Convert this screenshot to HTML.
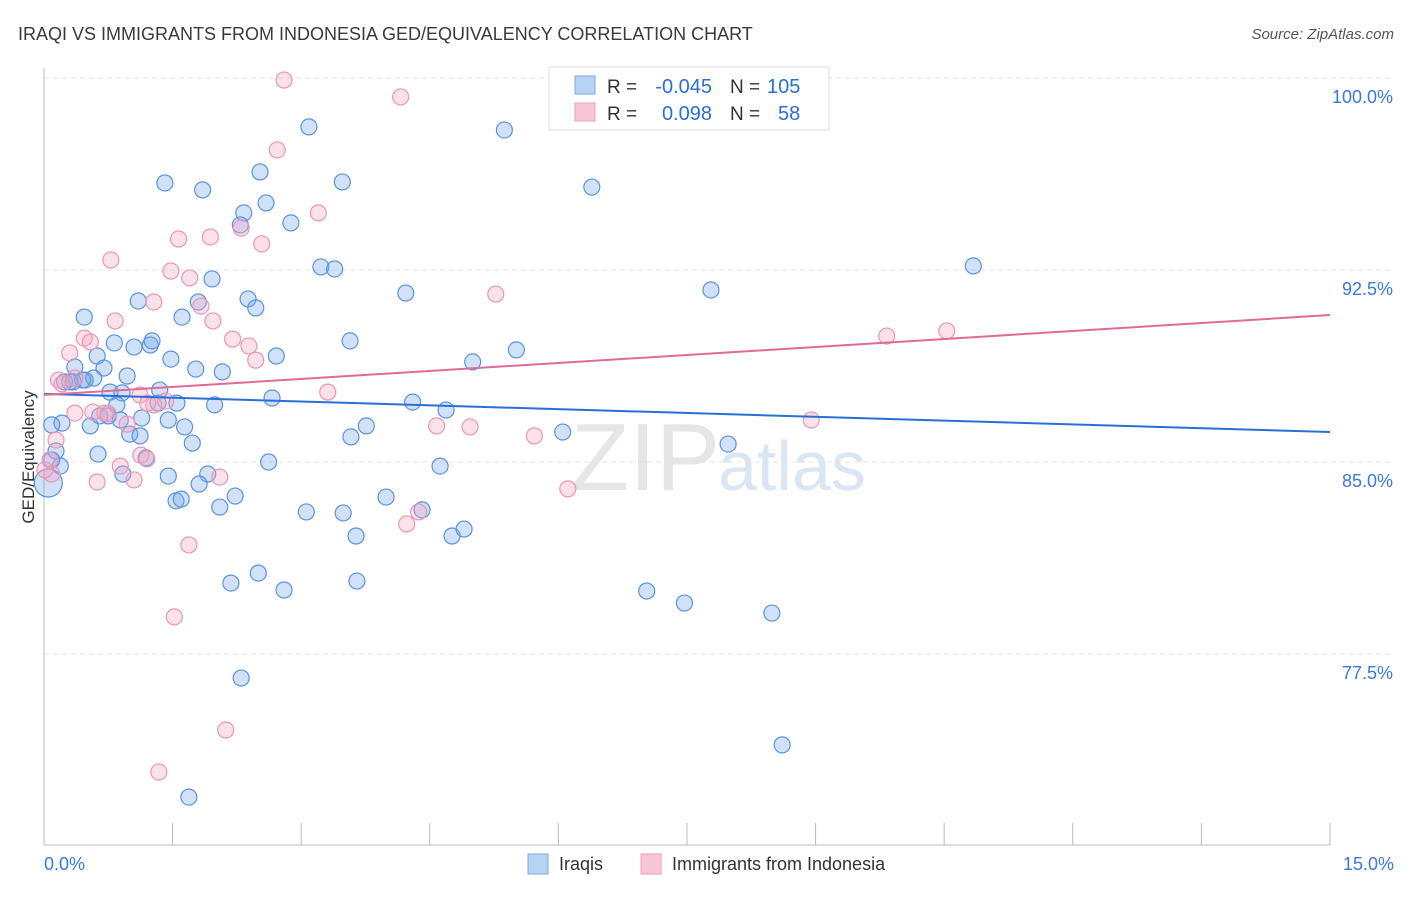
<!DOCTYPE html>
<html><head><meta charset="utf-8"><style>
body{margin:0;background:#fff;font-family:"Liberation Sans",sans-serif}
svg text{font-family:"Liberation Sans",sans-serif}
</style></head><body>
<svg id="chart" width="1406" height="892">
<text x="18" y="40" font-size="18" fill="#3a3a3a">IRAQI VS IMMIGRANTS FROM INDONESIA GED/EQUIVALENCY CORRELATION CHART</text>
<text x="1394" y="39" font-size="15" fill="#555" font-style="italic" text-anchor="end">Source: ZipAtlas.com</text>
<text x="720" y="490" font-size="96" fill="#e6e6e6" text-anchor="end" font-family="Liberation Serif">ZIP</text>
<text x="718" y="490" font-size="70" fill="#dbe6f5">atlas</text>
<g id="grid"></g>
<g id="axes"></g>
<g id="pts"></g>
<g id="trends"></g>
<text transform="translate(34,457) rotate(-90)" font-size="17" fill="#333" text-anchor="middle">GED/Equivalency</text>
<g>
<rect x="549" y="67" width="280" height="63" fill="#fff" stroke="#ddd"/>
<rect x="575" y="76" width="20" height="18" fill="#b7d2f3" stroke="#7aaae6"/>
<rect x="575" y="103" width="20" height="18" fill="#f8c6d6" stroke="#eca0bb"/>
<text x="607" y="93" font-size="19" fill="#333">R =</text>
<text x="712" y="93" font-size="20" fill="#2a6fd6" text-anchor="end">-0.045</text>
<text x="730" y="93" font-size="19" fill="#333">N =</text>
<text x="767" y="93" font-size="20" fill="#2a6fd6">105</text>
<text x="607" y="120" font-size="19" fill="#333">R =</text>
<text x="712" y="120" font-size="20" fill="#2a6fd6" text-anchor="end">0.098</text>
<text x="730" y="120" font-size="19" fill="#333">N =</text>
<text x="778" y="120" font-size="20" fill="#2a6fd6">58</text>
</g>
<g>
<rect x="528" y="854" width="20" height="20" fill="#b7d2f3" stroke="#7aaae6"/>
<text x="559" y="870" font-size="18" fill="#333">Iraqis</text>
<rect x="641" y="854" width="20" height="20" fill="#f8c6d6" stroke="#eca0bb"/>
<text x="672" y="870" font-size="18" fill="#333">Immigrants from Indonesia</text>
</g>
</svg>
<script>
const blueX=[6.63,3.09,5.37,1.41,3.48,6.39,2.52,1.85,2.59,2.33,2.88,2.29,3.23,3.39,1.96,10.84,4.22,7.78,1.10,2.38,2.47,1.80,0.47,1.61,3.57,5.51,5.00,0.82,1.05,1.24,1.26,0.62,1.48,2.71,1.77,2.08,0.36,0.70,0.58,0.48,0.24,0.34,0.97,0.77,0.91,1.35,1.55,1.33,1.99,2.66,4.30,4.69,0.21,0.09,0.54,0.85,1.00,1.12,1.64,1.73,3.58,3.76,6.05,7.98,0.14,0.63,1.19,0.19,2.62,4.62,0.92,1.45,1.91,1.81,2.23,1.54,1.60,2.05,3.06,3.49,3.99,4.41,4.76,4.90,3.64,2.18,2.50,2.80,3.65,7.03,7.47,8.49,2.30,8.61,1.69,0.75,0.30,1.14,0.89,0.65,0.45,1.45,0.09];
const blueY=[99.92,98.09,97.97,95.90,95.94,95.74,96.33,95.63,95.12,94.73,94.34,94.26,92.62,92.54,92.15,92.66,91.60,91.72,91.29,91.37,91.02,91.25,90.66,90.66,89.73,89.38,88.91,89.65,89.49,89.57,89.73,89.14,89.02,89.14,88.63,88.52,88.71,88.67,88.28,88.20,88.13,88.13,88.36,87.73,87.70,87.81,87.30,87.30,87.23,87.50,87.34,87.03,86.52,86.45,86.41,87.23,86.09,86.02,86.37,85.74,85.98,86.41,86.17,85.70,85.43,85.31,85.16,84.84,85.00,84.84,84.53,84.45,84.53,84.14,83.67,83.48,83.55,83.24,83.05,83.01,83.63,83.13,82.11,82.38,82.11,80.27,80.66,80.00,80.35,79.96,79.49,79.10,76.56,73.95,71.91,86.80,88.13,86.72,86.64,86.80,88.20,86.64,85.08];
const pinkX=[2.80,4.16,2.72,3.20,2.30,2.54,1.57,1.94,0.78,1.48,1.70,1.28,1.83,1.97,0.83,0.47,0.54,0.30,2.20,2.39,2.47,5.27,9.83,10.53,0.17,0.36,0.21,1.12,1.42,1.28,0.57,0.71,0.36,0.75,0.97,0.14,0.07,0.89,1.13,1.20,1.05,0.62,2.05,3.31,4.58,4.97,5.72,8.95,6.11,4.23,4.37,1.69,1.52,2.12,1.34,0.09,0.01,1.21];
const pinkY=[99.92,99.26,97.19,94.73,94.14,93.52,93.71,93.79,92.89,92.46,92.19,91.25,91.09,90.51,90.51,89.84,89.69,89.26,89.80,89.53,88.98,91.56,89.92,90.12,88.20,88.28,88.05,87.62,87.38,87.23,86.95,86.91,86.91,86.88,86.48,85.86,85.08,84.84,85.27,85.12,84.30,84.22,84.41,87.73,86.41,86.37,86.02,86.64,83.95,82.58,83.05,81.76,78.95,74.53,72.89,84.53,84.69,87.30];
const bigX=[0.05], bigY=[84.18];
const yTicks=[100,92.5,85,77.5];
const yTickLabels=["100.0%","92.5%","85.0%","77.5%"];
const xTicks=[0,1.5,3,4.5,6,7.5,9,10.5,12,13.5,15];
const blueTrend=[87.66,86.17];
const pinkTrend=[87.62,90.74];
const NS="http://www.w3.org/2000/svg";
const sx=v=>44+v*85.73, sy=v=>78+(100-v)*25.6;
function mk(p,tag,a){const e=document.createElementNS(NS,tag);for(const k in a)e.setAttribute(k,a[k]);p.appendChild(e);return e;}
const grid=document.getElementById('grid'),axes=document.getElementById('axes'),pts=document.getElementById('pts'),tr=document.getElementById('trends');
yTicks.forEach((t,i)=>{
 const l=mk(grid,'line',{x1:44,x2:1394,y1:sy(t),y2:sy(t),stroke:'#e4e4e4','stroke-dasharray':'5,4'});
 
 
 const tx=mk(grid,'text',{x:1393,y:sy(t)+25,'font-size':18,fill:'#3b78d8','text-anchor':'end'});
 tx.textContent=yTickLabels[i];
 
 
});
const ax=mk(axes,'line',{x1:44,x2:1330,y1:845,y2:845,stroke:'#bbb'});


const ay=mk(axes,'line',{x1:44,x2:44,y1:68,y2:845,stroke:'#bbb'});


xTicks.forEach(t=>{
 const l=mk(axes,'line',{x1:sx(t),x2:sx(t),y1:823,y2:845,stroke:'#bbb'});
 
 
});
const xl0=mk(axes,'text',{x:44,y:870,'font-size':18,fill:'#3b78d8'});xl0.textContent='0.0%';


const xl1=mk(axes,'text',{x:1394,y:870,'font-size':18,fill:'#3b78d8','text-anchor':'end'});xl1.textContent='15.0%';


function dots(X,Y,fill,stroke,r,name){X.forEach((x,i)=>{
 const c=mk(pts,'circle',{cx:sx(x),cy:sy(Y[i]),r:r,fill:fill,stroke:stroke,'stroke-width':1.2});
 
 
});}
dots(blueX,blueY,'rgba(120,170,235,0.35)','#5b93dd',8,'iraqi-point');
dots(bigX,bigY,'rgba(120,170,235,0.35)','#5b93dd',14,'iraqi-point');
dots(pinkX,pinkY,'rgba(245,165,195,0.35)','#e897b5',8,'indonesia-point');
const lb=mk(tr,'line',{x1:sx(0),x2:sx(15),y1:sy(blueTrend[0]),y2:sy(blueTrend[1]),stroke:'#2a6fd6','stroke-width':2});


const lp=mk(tr,'line',{x1:sx(0),x2:sx(15),y1:sy(pinkTrend[0]),y2:sy(pinkTrend[1]),stroke:'#e26a98','stroke-width':2});


</script>
</body></html>
